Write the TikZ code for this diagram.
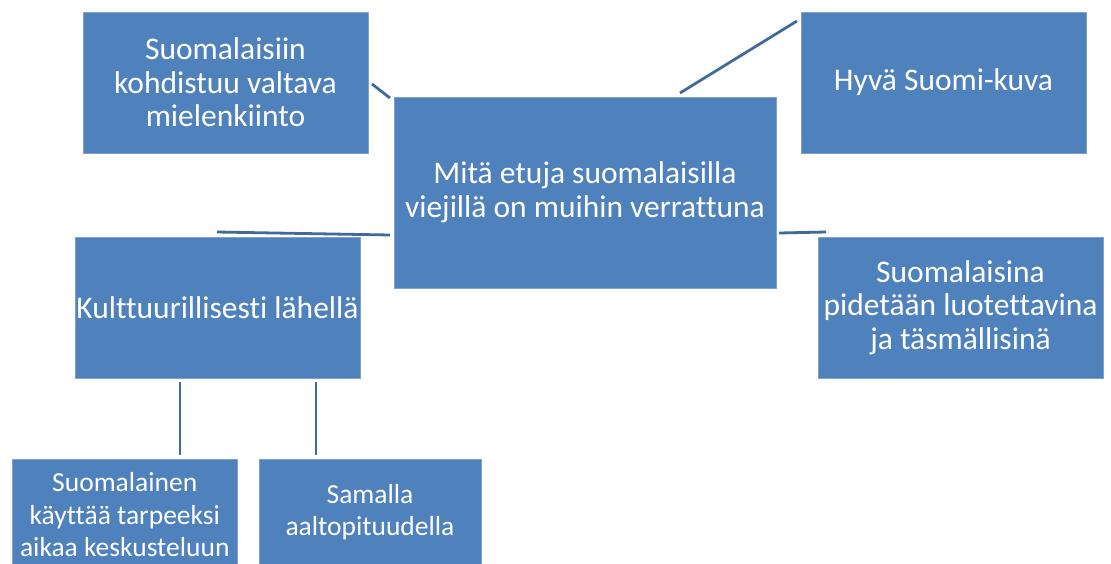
\documentclass[tikz,border=0pt]{standalone}
\usepackage{fontspec}
\setmainfont[Ligatures=NoCommon]{Carlito}
\definecolor{boxblue}{HTML}{4F81BD}
\definecolor{boxedge}{HTML}{7EA2D0}
\definecolor{linkblue}{HTML}{41699C}
\begin{document}
\begin{tikzpicture}[x=1pt,y=-1pt,
  box/.style={fill=boxblue, draw=boxedge, line width=0.8pt, text=white, align=center,
    font=\fontsize{31.5}{33.5}\selectfont, inner sep=0pt},
  smallbox/.style={box, font=\fontsize{27.5}{32.5}\selectfont},
  link/.style={draw=linkblue, line width=2.8pt}]
\clip (0,0) rectangle (1111,563);
\fill[white] (0,0) rectangle (1111,563);
\node[box, minimum width=285, minimum height=141] (a) at (225.5,82.5) {Suomalaisiin\\kohdistuu valtava\\mielenkiinto};
\node[box, minimum width=382, minimum height=191] (c) at (585,192.5) {Mitä etuja suomalaisilla\\viejillä on muihin verrattuna};
\node[box, minimum width=285, minimum height=141] (h) at (943.5,82.5) {Hyvä Suomi-kuva};
\node[box, minimum width=285, minimum height=141] (k) at (217.5,307.5) {Kulttuurillisesti lähellä};
\node[box, minimum width=285, minimum height=141] (r) at (960.5,307.5) {Suomalaisina\\pidetään luotettavina\\ja täsmällisinä};
\node[smallbox, minimum width=224.5, minimum height=112] (b1) at (124.75,515) {Suomalainen\\käyttää tarpeeksi\\aikaa keskusteluun};
\node[smallbox, minimum width=222, minimum height=106] (b2) at (370,512) {Samalla\\aaltopituudella};
\fill[boxblue] (b2.south west) rectangle ([yshift=-20]b2.south east);
\coordinate (a1) at (372,84);  \coordinate (c1) at (390,98);
\coordinate (c2) at (680,93);  \coordinate (h1) at (797,21);
\coordinate (k1) at (217,232); \coordinate (c3) at (390,235);
\coordinate (c4) at (779,233); \coordinate (r1) at (826,232);
\coordinate (k2) at (180,382); \coordinate (b1t) at (180,455);
\coordinate (k3) at (316,382); \coordinate (b2t) at (316,455);
\draw[link] (a1) -- (c1);
\draw[link] (c2) -- (h1);
\draw[link] (k1) -- (c3);
\draw[link] (c4) -- (r1);
\draw[link] (k2) -- (b1t);
\draw[link] (k3) -- (b2t);
\end{tikzpicture}
\end{document}
